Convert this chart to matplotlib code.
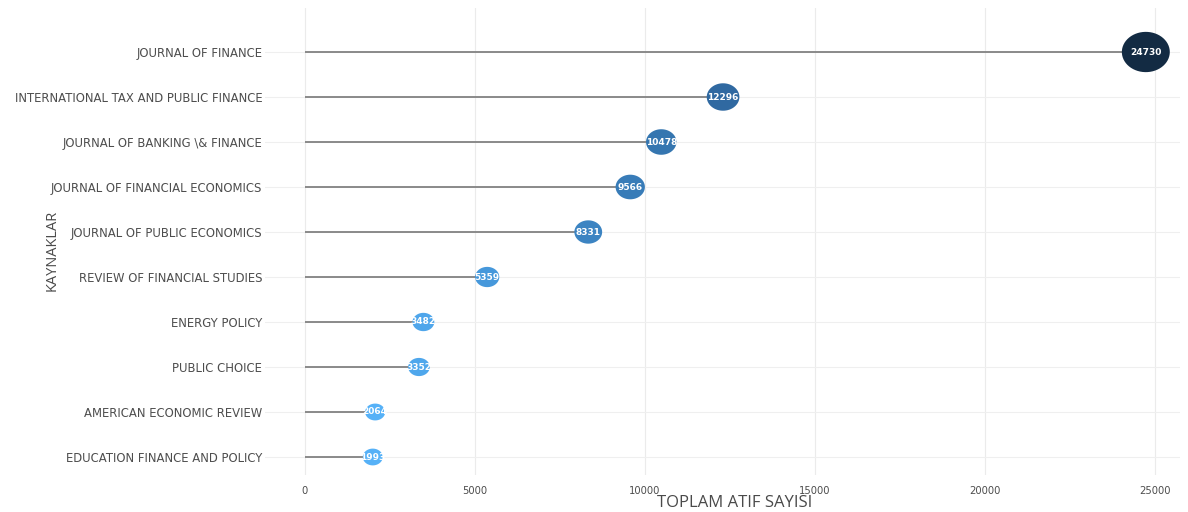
import numpy as np
import matplotlib
matplotlib.use("Agg")
import matplotlib.pyplot as plt
from matplotlib.path import Path
from matplotlib.colors import LinearSegmentedColormap

# ---- data ----
sources = [
    "JOURNAL OF FINANCE",
    "INTERNATIONAL TAX AND PUBLIC FINANCE",
    "JOURNAL OF BANKING \\& FINANCE",
    "JOURNAL OF FINANCIAL ECONOMICS",
    "JOURNAL OF PUBLIC ECONOMICS",
    "REVIEW OF FINANCIAL STUDIES",
    "ENERGY POLICY",
    "PUBLIC CHOICE",
    "AMERICAN ECONOMIC REVIEW",
    "EDUCATION FINANCE AND POLICY",
]
citations = [24730, 12296, 10478, 9566, 8331, 5359, 3482, 3352, 2064, 1993]
x_ticks = [0, 5000, 10000, 15000, 20000, 25000]
x_label = "TOPLAM ATIF SAYISI"
y_label = "KAYNAKLAR"

W, H, DPI = 1188, 512, 100
fig = plt.figure(figsize=(W / DPI, H / DPI), dpi=DPI)
fig.patch.set_facecolor("white")

left_px, right_px, top_px, bot_px = 265, 1180, 8, 475
ax = fig.add_axes([left_px / W, 1 - bot_px / H, (right_px - left_px) / W, (bot_px - top_px) / H])
ax.set_facecolor("white")

n = len(sources)
ypos = np.arange(n, 0, -1)  # top item highest
vals = np.array(citations, dtype=float)

# colours: light blue (low) -> dark navy (high)
cmap = LinearSegmentedColormap.from_list(
    "gg", [(0.0, "#56B1F7"), (0.15, "#4597DA"), (0.45, "#306AA2"), (1.0, "#132B43")])
t = (vals - vals.min()) / (vals.max() - vals.min())
colors = cmap(t)

# bubble diameters (px) roughly linear in value
d_px = 20 + 0.00123 * (vals - vals.min())
pt_per_px = 72 / DPI
sizes = (d_px * pt_per_px) ** 2

# elliptic marker (wider than tall)
theta = np.linspace(0, 2 * np.pi, 60)
verts = np.column_stack([np.cos(theta), 0.84 * np.sin(theta)])
ell = Path(verts, closed=True)

# grid
for xt in x_ticks:
    ax.axvline(xt, color="#ebebeb", lw=0.8, zorder=0)
for yy in ypos:
    ax.axhline(yy, color="#efefef", lw=0.8, zorder=0)

# segments
ax.hlines(ypos, 0, vals, color="#8a8a8a", lw=1.4, zorder=1)
ax.scatter(vals, ypos, s=sizes, c=colors, marker=ell, linewidths=0, zorder=2)

for v, y in zip(vals, ypos):
    ax.text(v, y, f"{int(v)}", color="white", fontsize=6.5, fontweight="bold",
            ha="center", va="center", zorder=3, clip_on=False)

ax.set_xlim((left_px - 305) / 0.034, (right_px - 305) / 0.034)
ax.set_ylim(10 - (bot_px - 52) / 45, 10 + (52 - top_px) / 45)
ax.set_yticks(ypos)
ax.set_yticklabels(sources, fontsize=8.4, color="#4d4d4d")
ax.set_xticks(x_ticks)
ax.set_xticklabels([str(x) for x in x_ticks], fontsize=7.2, color="#4d4d4d")
ax.tick_params(axis="both", length=0)
ax.tick_params(axis="x", pad=8)
ax.tick_params(axis="y", pad=2)
for s in ax.spines.values():
    s.set_visible(False)

fig.text(735 / W, 1 - 503 / H, x_label, ha="center", va="center", fontsize=12,
         color="#4a4a4a", family=["Open Sans", "DejaVu Sans"])
fig.text(52 / W, 1 - 250 / H, y_label, ha="center", va="center", rotation=90,
         fontsize=10.5, color="#4a4a4a", family=["Open Sans", "DejaVu Sans"])

fig.savefig("out.png", dpi=DPI, facecolor="white")
